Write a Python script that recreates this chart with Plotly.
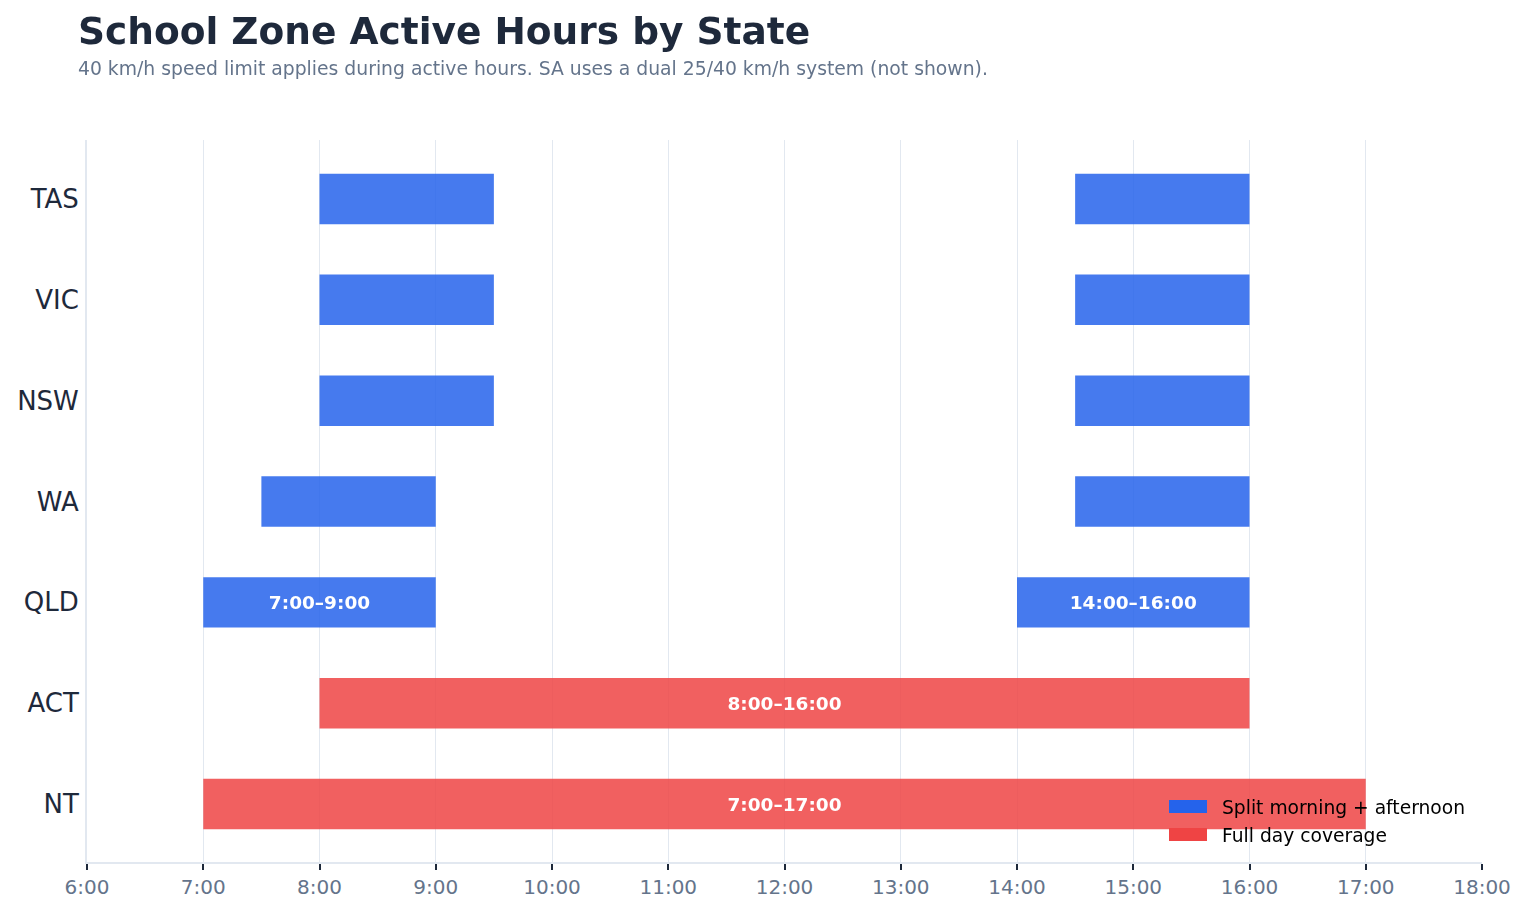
import plotly.graph_objects as go

states = ["NT", "ACT", "QLD", "WA", "NSW", "VIC", "TAS"]

split_states = ["QLD", "WA", "NSW", "VIC", "TAS"]
morning_start = [7.0, 7.5, 8.0, 8.0, 8.0]
morning_end = [9.0, 9.0, 9.5, 9.5, 9.5]
afternoon_start = [14.0, 14.5, 14.5, 14.5, 14.5]
afternoon_end = [16.0, 16.0, 16.0, 16.0, 16.0]
morning_labels = ["7:00–9:00", "", "", "", ""]
afternoon_labels = ["14:00–16:00", "", "", "", ""]

full_states = ["NT", "ACT"]
full_start = [7.0, 8.0]
full_end = [17.0, 16.0]
full_labels = ["7:00–17:00", "8:00–16:00"]

tick_vals = list(range(6, 19))
tick_text = [f"{h}:00" for h in tick_vals]

legend_names = ["Split morning + afternoon", "Full day coverage"]

BLUE = "#2563eb"
RED = "#ef4444"
FONT = "DejaVu Sans"

W, H = 1526, 912
OFFX, OFFY = 7, 8  # page offset of the plot div
ML, MR, MT, MB = 86 - OFFX, W - (1481 - OFFX), 140 - OFFY, H - (862 - OFFY)
PW, PH = W - ML - MR, H - MT - MB


def px(xw):
    return (xw - OFFX - ML) / PW


def py(yw):
    return (H - MB - (yw - OFFY)) / PH


fig = go.Figure()


def add_bars(ys, starts, ends, labels, color, name):
    fig.add_trace(go.Bar(
        y=ys,
        x=[e - s for s, e in zip(starts, ends)],
        base=starts,
        orientation="h",
        marker=dict(color=color, line=dict(width=0)),
        opacity=0.85,
        width=0.5,
        name=name,
        showlegend=False,
        text=labels,
        textposition="inside",
        insidetextanchor="middle",
        textangle=0,
        textfont=dict(family=FONT, size=18.5, color="white", weight="bold"),
        hoverinfo="skip",
    ))


add_bars(split_states, morning_start, morning_end, morning_labels, BLUE, legend_names[0])
add_bars(split_states, afternoon_start, afternoon_end, afternoon_labels, BLUE, legend_names[0])
add_bars(full_states, full_start, full_end, full_labels, RED, legend_names[1])

annotations = [
    dict(text="<b>School Zone Active Hours by State</b>", x=px(75), y=py(31),
         xref="paper", yref="paper", xanchor="left", yanchor="middle",
         showarrow=False, font=dict(size=37.5, color="#1e293b", family=FONT)),
    dict(text="40 km/h speed limit applies during active hours. SA uses a dual 25/40 km/h system (not shown).",
         x=px(75), y=py(68), xref="paper", yref="paper",
         xanchor="left", yanchor="middle", showarrow=False,
         font=dict(size=18.8, color="#64748b", family=FONT)),
]
shapes = []
for i, (name, col) in enumerate(zip(legend_names, [BLUE, RED])):
    yc = 806.5 + 28 * i
    shapes.append(dict(type="rect", xref="paper", yref="paper",
                       x0=px(1168), x1=px(1206), y0=py(yc + 6.5), y1=py(yc - 6.5),
                       fillcolor=col, line=dict(width=0), layer="above"))
    annotations.append(dict(text=name, x=px(1219), y=py(yc + 1), xref="paper", yref="paper",
                            xanchor="left", yanchor="middle", showarrow=False,
                            font=dict(size=18.7, color="black", family=FONT)))

fig.update_layout(
    width=W, height=H,
    barmode="overlay",
    plot_bgcolor="white", paper_bgcolor="white",
    margin=dict(l=ML, r=MR, t=MT, b=MB, autoexpand=False),
    font=dict(family=FONT),
    showlegend=False,
    uniformtext=dict(mode="show", minsize=10),
    annotations=annotations,
    shapes=shapes,
)

fig.update_xaxes(
    range=[6, 18], tickvals=tick_vals, ticktext=tick_text,
    showgrid=True, gridcolor="#e2e8f0", gridwidth=1,
    showline=True, linecolor="#e2e8f0", linewidth=2,
    ticks="outside", tickcolor="#1e293b", ticklen=6, tickwidth=2,
    tickfont=dict(size=20, color="#64748b"), zeroline=False, automargin=False,
)
fig.update_yaxes(
    categoryorder="array", categoryarray=states,
    range=[-0.575, 6.585],
    showgrid=False, showline=True, linecolor="#e2e8f0", linewidth=2,
    ticks="", tickfont=dict(size=26, color="#1e293b"), ticklabelstandoff=1,
    automargin=False,
)

fig.write_html("out.html")
